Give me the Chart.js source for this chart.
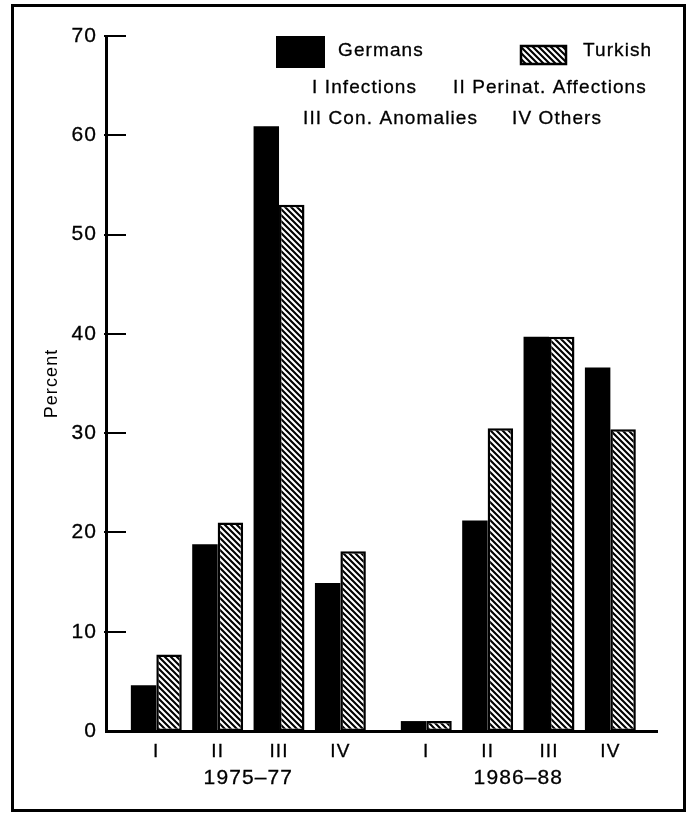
<!DOCTYPE html>
<html>
<head>
<meta charset="utf-8">
<script src="https://cdn.jsdelivr.net/npm/chart.js@4/dist/chart.umd.min.js"></script>
<style>
html,body{margin:0;padding:0;background:#fff;}
#wrap{width:689px;height:820px;}
</style>
</head>
<body>
<div id="wrap"><canvas id="c" width="689" height="820"></canvas></div>
<script>
// ---- data ----
const categories = ['I', 'II', 'III', 'IV'];
const periods = ['1975–77', '1986–88'];
const germans1975 = [4.6, 18.8, 60.9, 14.9];
const turkish1975 = [7.7, 21.0, 53.0, 18.1];
const germans1986 = [1.0, 21.2, 39.7, 36.6];
const turkish1986 = [1.0, 30.5, 39.7, 30.4];
const seriesNames = ['Germans', 'Turkish'];
const keyLine1 = ['I Infections', 'II Perinat. Affections'];
const keyLine2 = ['III Con. Anomalies', 'IV Others'];
const yTicks = [0, 10, 20, 30, 40, 50, 60, 70];

// ---- layout constants ----
const PERIOD_GAP = 0.4;
const X_MIN = -0.82, X_MAX = 8.16;
const FONT = "'Liberation Sans', Arial, sans-serif";
const SPACING = '1.1px';
const STROKE = 0.3;

const pos = (pi, ci) => pi * (categories.length + PERIOD_GAP) + ci;
const catPositions = periods.flatMap((p, pi) => categories.map((c, ci) => pos(pi, ci)));
const periodCenters = periods.map((p, pi) => (pos(pi, 0) + pos(pi, categories.length - 1)) / 2);

const toPoints = (a, b) => [...a.map((v, i) => ({x: pos(0, i), y: v})), ...b.map((v, i) => ({x: pos(1, i), y: v}))];

const canvas = document.getElementById('c');
const ctx0 = canvas.getContext('2d');

function makeHatch() {
  const s = 6;
  const c = document.createElement('canvas');
  c.width = s; c.height = s;
  const g = c.getContext('2d');
  g.fillStyle = '#fff'; g.fillRect(0, 0, s, s);
  g.strokeStyle = '#000'; g.lineWidth = 2.1;
  g.beginPath();
  g.moveTo(-1, -1); g.lineTo(s + 1, s + 1);
  g.moveTo(-1, s - 1); g.lineTo(1, s + 1);
  g.moveTo(s - 1, -1); g.lineTo(s + 1, 1);
  g.stroke();
  return ctx0.createPattern(c, 'repeat');
}
const hatch = makeHatch();

function boldText(ctx, txt, x, y) {
  ctx.fillText(txt, x, y);
  ctx.strokeText(txt, x, y);
}

const decor = {
  id: 'decor',
  beforeDraw(chart) {
    const ctx = chart.ctx;
    ctx.save();
    ctx.fillStyle = '#fff';
    ctx.fillRect(0, 0, chart.width, chart.height);
    ctx.strokeStyle = '#000';
    ctx.lineWidth = 3;
    ctx.strokeRect(12.5, 5.5, 672, 805);
    ctx.restore();
    ctx.letterSpacing = SPACING;
  },
  afterDraw(chart) {
    const {ctx, chartArea, scales: {y}} = chart;
    ctx.save();
    ctx.strokeStyle = '#000';
    ctx.lineWidth = 2;
    yTicks.forEach(v => {
      if (v === 0) return;
      const py = Math.round(y.getPixelForValue(v));
      ctx.beginPath();
      ctx.moveTo(chartArea.left - 2, py);
      ctx.lineTo(chartArea.left + 20, py);
      ctx.stroke();
    });
    // legend
    const ds = chart.data.datasets;
    ctx.fillStyle = ds[0].backgroundColor;
    ctx.fillRect(276, 36, 49, 32);
    ctx.fillStyle = ds[1].backgroundColor;
    ctx.fillRect(520, 45, 47, 20);
    ctx.lineWidth = 2.5;
    ctx.strokeRect(521, 46, 45, 18);
    ctx.letterSpacing = SPACING;
    ctx.fillStyle = '#000';
    ctx.lineWidth = STROKE;
    ctx.font = '19px ' + FONT;
    ctx.textBaseline = 'middle';
    ctx.textAlign = 'left';
    boldText(ctx, seriesNames[0], 338, 51);
    boldText(ctx, seriesNames[1], 583, 51);
    boldText(ctx, keyLine1[0], 312, 88);
    boldText(ctx, keyLine1[1], 453, 88);
    boldText(ctx, keyLine2[0], 303, 119);
    boldText(ctx, keyLine2[1], 512, 119);
    ctx.restore();
  }
};

new Chart(canvas, {
  type: 'bar',
  data: {
    datasets: [
      {
        label: seriesNames[0],
        data: toPoints(germans1975, germans1986),
        backgroundColor: '#000',
        borderWidth: 0
      },
      {
        label: seriesNames[1],
        data: toPoints(turkish1975, turkish1986),
        backgroundColor: hatch,
        borderColor: '#000',
        borderWidth: 2.5,
        borderSkipped: false
      }
    ]
  },
  options: {
    responsive: false,
    animation: false,
    devicePixelRatio: 1,
    categoryPercentage: 0.83,
    barPercentage: 1.0,
    layout: {padding: {left: 0, right: 32, top: 36, bottom: 25}},
    plugins: {legend: {display: false}, tooltip: {enabled: false}},
    scales: {
      x: {
        type: 'linear',
        position: 'bottom',
        weight: 0,
        min: X_MIN, max: X_MAX,
        bounds: 'data',
        offset: false,
        afterBuildTicks: s => { s.ticks = catPositions.map(v => ({value: v})); },
        afterFit: s => { s.height = 34; },
        grid: {display: false, drawTicks: false, offset: false},
        border: {display: true, color: '#000', width: 3},
        ticks: {
          autoSkip: false, maxRotation: 0, minRotation: 0,
          color: '#000', font: {family: FONT, size: 19}, padding: 9,
          textStrokeColor: '#000', textStrokeWidth: STROKE,
          callback: (v, i) => categories[i % categories.length]
        }
      },
      x2: {
        type: 'linear',
        position: 'bottom',
        weight: 1,
        min: X_MIN, max: X_MAX,
        bounds: 'data',
        offset: false,
        afterBuildTicks: s => { s.ticks = periodCenters.map(v => ({value: v})); },
        afterFit: s => { s.height = 30; },
        grid: {display: false, drawTicks: false, offset: false},
        border: {display: false},
        ticks: {
          autoSkip: false, maxRotation: 0, minRotation: 0,
          color: '#000', font: {family: FONT, size: 21}, padding: 1,
          textStrokeColor: '#000', textStrokeWidth: STROKE,
          callback: (v, i) => periods[i]
        }
      },
      y: {
        type: 'linear',
        min: 0, max: 70,
        afterBuildTicks: s => { s.ticks = yTicks.map(v => ({value: v})); },
        afterFit: s => { s.width = 106; },
        grid: {display: false, drawTicks: false},
        border: {display: true, color: '#000', width: 3},
        ticks: {
          color: '#000', font: {family: FONT, size: 21}, padding: 9,
          textStrokeColor: '#000', textStrokeWidth: STROKE
        },
        title: {
          display: true, text: 'Percent', color: '#000',
          font: {family: FONT, size: 18},
          padding: {top: 41, bottom: 0}
        }
      }
    }
  },
  plugins: [decor]
});
</script>
</body>
</html>
